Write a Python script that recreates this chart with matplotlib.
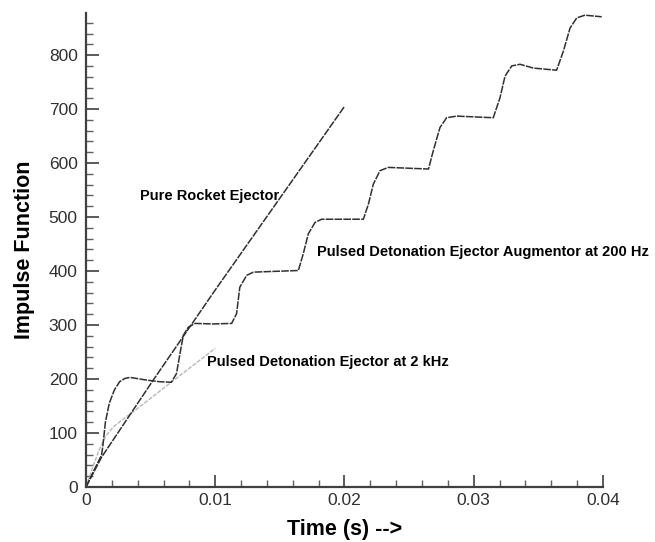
"""Impulse function vs time for rocket and pulsed detonation ejectors."""

import matplotlib

matplotlib.use("Agg")

import matplotlib.pyplot as plt
from matplotlib.ticker import MultipleLocator

# Pure rocket ejector (straight line)
rocket_t = [0.0, 0.0012, 0.0052, 0.01, 0.015, 0.02]
rocket_i = [0, 55, 198, 365, 535, 705]

# Pulsed detonation ejector at 2 kHz (light line)
pde2k_t = [0.0, 0.0005, 0.001, 0.0015, 0.0021, 0.003, 0.0038, 0.006, 0.008, 0.01]
pde2k_i = [0, 35, 68, 93, 111, 128, 142, 183, 220, 257]

# Pulsed detonation ejector augmentor at 200 Hz (staircase)
aug_t = [
    0.0, 0.0006, 0.0012, 0.0013, 0.0015, 0.0018, 0.0022, 0.0026, 0.003, 0.0034,
    0.0047, 0.0057, 0.0066, 0.0070, 0.00727, 0.00753, 0.00792, 0.00843, 0.00985,
    0.01127, 0.01165, 0.0119, 0.01243, 0.01295, 0.01643, 0.01681, 0.0172, 0.01772,
    0.01823, 0.02146, 0.02185, 0.02223, 0.02275, 0.02339, 0.0265, 0.02687, 0.02739,
    0.0279, 0.02868, 0.03151, 0.03203, 0.03242, 0.03294, 0.03358, 0.03461, 0.03641,
    0.03693, 0.03745, 0.03797, 0.03861, 0.0399,
]
aug_i = [
    0, 30, 59, 75, 120, 155, 180, 195, 201, 203,
    198, 195, 194, 210, 247, 281, 296, 303, 302,
    303, 321, 370, 392, 398, 401, 432, 469, 490,
    496, 496, 524, 561, 586, 592, 589, 623, 666,
    684, 687, 684, 721, 761, 780, 783, 776, 772,
    807, 850, 869, 874, 871,
]

labels = {
    "rocket": "Pure Rocket Ejector",
    "aug": "Pulsed Detonation Ejector Augmentor at 200 Hz",
    "pde2k": "Pulsed Detonation Ejector at 2 kHz",
}

plt.rcParams["font.family"] = ["Liberation Sans", "DejaVu Sans"]

fig = plt.figure(figsize=(6.55, 5.42), dpi=100)
ax = fig.add_axes([0.1313, 0.1015, 0.7893, 0.8745])

ax.plot(pde2k_t, pde2k_i, color="#b8b8b8", lw=1.0, linestyle=(0, (3, 1)))
ax.plot(rocket_t, rocket_i, color="#303030", lw=1.1, linestyle=(0, (5, 0.8)))
ax.plot(aug_t, aug_i, color="#303030", lw=1.1, linestyle=(0, (5, 0.8)))

ax.text(0.0042, 539, labels["rocket"], fontsize=10.5, fontweight="bold", va="center")
ax.text(0.0179, 435, labels["aug"], fontsize=10.5, fontweight="bold", va="center")
ax.text(0.0094, 231, labels["pde2k"], fontsize=10.5, fontweight="bold", va="center")

ax.set_xlim(0, 0.04)
ax.set_ylim(0, 878)
ax.xaxis.set_major_locator(MultipleLocator(0.01))
ax.xaxis.set_minor_locator(MultipleLocator(0.002))
ax.yaxis.set_major_locator(MultipleLocator(100))
ax.yaxis.set_minor_locator(MultipleLocator(20))
ax.set_xticks([0, 0.01, 0.02, 0.03, 0.04])
ax.set_xticklabels(["0", "0.01", "0.02", "0.03", "0.04"])

for side in ("top", "right"):
    ax.spines[side].set_visible(False)
for side in ("left", "bottom"):
    ax.spines[side].set_linewidth(1.6)
    ax.spines[side].set_color("#404040")

ax.tick_params(which="major", direction="in", length=9, width=1.2,
               labelsize=12.5, labelcolor="#303030", color="#404040")
ax.tick_params(which="minor", direction="in", length=5, width=1.0, color="#606060")
ax.tick_params(axis="y", which="major", pad=6)
ax.tick_params(axis="x", which="major", pad=4)

ax.set_xlabel("Time (s) -->", fontsize=15.5, fontweight="bold", labelpad=8)
ax.set_ylabel("Impulse Function", fontsize=15.5, fontweight="bold", labelpad=10)

fig.savefig("out.png", dpi=100)
plt.close(fig)
